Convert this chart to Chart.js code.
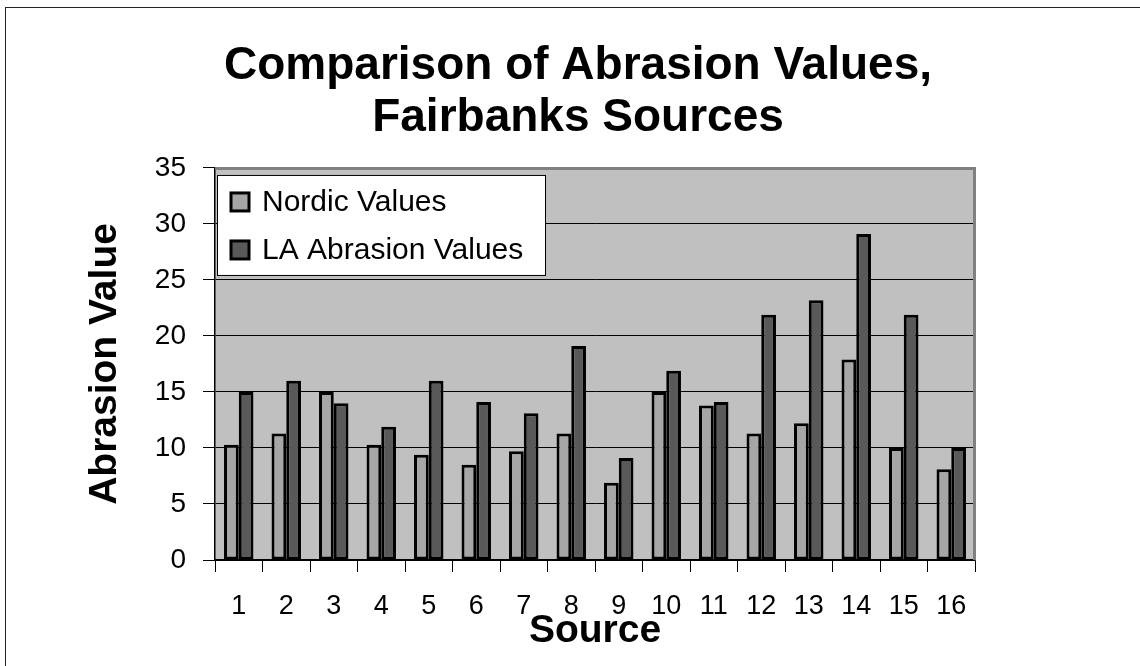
<!DOCTYPE html>
<html>
<head>
<meta charset="utf-8">
<script src="https://cdn.jsdelivr.net/npm/chart.js@4.4.0/dist/chart.umd.min.js"></script>
<style>
  body { margin: 0; background: #fff; }
</style>
</head>
<body>
<canvas id="grafico" width="1140" height="666"></canvas>
<script>
const fonte = "'Liberation Sans', Arial, sans-serif"

const sources = ["1", "2", "3", "4", "5", "6", "7", "8", "9", "10", "11", "12", "13", "14", "15", "16"]
const nordicValues = [10.3, 11.3, 15.0, 10.3, 9.4, 8.5, 9.7, 11.3, 6.9, 15.0, 13.8, 11.3, 12.2, 17.9, 10.0, 8.1]
const laValues = [15.0, 16.0, 14.0, 11.9, 16.0, 14.1, 13.1, 19.1, 9.1, 16.9, 14.1, 21.9, 23.2, 29.1, 21.9, 10.0]
const yMin = 0, yMax = 35, yStep = 5

// gray plot area, gray top/right edge, outer frame and the boxed legend
const plotArea = {
    id: 'plotArea',
    beforeDraw(chart) {
        const { ctx, chartArea: a } = chart
        ctx.save()
        ctx.fillStyle = '#c0c0c0'
        ctx.fillRect(a.left, a.top, a.right - a.left, a.bottom - a.top)
        ctx.restore()
    },
    afterDraw(chart) {
        const { ctx, chartArea: a } = chart
        ctx.save()
        ctx.strokeStyle = '#808080'
        ctx.lineWidth = 3
        ctx.beginPath()
        ctx.moveTo(a.left, a.top + 0.5)
        ctx.lineTo(a.right - 0.5, a.top + 0.5)
        ctx.lineTo(a.right - 0.5, a.bottom)
        ctx.stroke()

        ctx.strokeStyle = '#222'
        ctx.lineWidth = 1
        ctx.strokeRect(5.5, 7.5, 1200, 700)

        // legend
        const lx = a.left + 2, ly = a.top + 7, lw = 328, lh = 100
        ctx.fillStyle = '#fff'
        ctx.fillRect(lx, ly, lw, lh)
        ctx.strokeStyle = '#000'
        ctx.strokeRect(lx + 0.5, ly + 0.5, lw, lh)
        ctx.font = '30px ' + fonte
        ctx.textBaseline = 'middle'
        chart.data.datasets.forEach((ds, i) => {
            const cy = ly + 27 + i * 48
            ctx.fillStyle = ds.backgroundColor
            ctx.fillRect(lx + 14, cy - 9, 18, 18)
            ctx.lineWidth = 3
            ctx.strokeStyle = '#000'
            ctx.strokeRect(lx + 14, cy - 9, 18, 18)
            ctx.fillStyle = '#000'
            ctx.fillText(ds.label, lx + 45, cy + 1)
        })
        ctx.restore()
    }
}

new Chart(document.getElementById('grafico'), {
    type: 'bar',
    data: {
        labels: sources,
        datasets: [{
            label: 'Nordic Values',
            data: nordicValues,
            backgroundColor: '#a6a6a6',
            borderColor: '#000',
            borderWidth: 3,
            borderSkipped: false
        }, {
            label: 'LA Abrasion Values',
            data: laValues,
            backgroundColor: '#595959',
            borderColor: '#000',
            borderWidth: 3,
            borderSkipped: false
        }]
    },
    options: {
        responsive: false,
        animation: false,
        categoryPercentage: 0.62,
        barPercentage: 1.0,
        layout: { padding: { left: 16, right: 0, top: 0, bottom: 0 } },
        plugins: {
            legend: { display: false },
            tooltip: { enabled: false },
            title: {
                display: true,
                text: ['Comparison of Abrasion Values,', 'Fairbanks Sources'],
                color: '#000',
                font: { family: fonte, size: 46, weight: 'bold', lineHeight: 1.13 },
                padding: { top: 40, bottom: 24 }
            }
        },
        scales: {
            x: {
                afterFit(scale) { scale.height = 106 },
                grid: {
                    display: true,
                    drawOnChartArea: false,
                    color: '#000',
                    tickLength: 12,
                    offset: true
                },
                border: { display: true, color: '#000', width: 1.5 },
                ticks: { color: '#000', padding: 18, font: { family: fonte, size: 27 } },
                title: {
                    display: true,
                    text: 'Source',
                    color: '#000',
                    font: { family: fonte, size: 39, weight: 'bold' },
                    padding: { top: 0, bottom: 11 }
                }
            },
            y: {
                min: yMin,
                max: yMax,
                afterFit(scale) { scale.width = 199 },
                grid: {
                    color: ctx => ctx.tick && ctx.tick.value === yMax ? 'rgba(0,0,0,0)' : '#000',
                    tickColor: '#000',
                    tickLength: 12,
                    lineWidth: 1
                },
                border: { display: true, color: '#000', width: 1.5 },
                ticks: {
                    stepSize: yStep,
                    color: '#000',
                    padding: 17,
                    font: { family: fonte, size: 28 }
                },
                title: {
                    display: true,
                    text: 'Abrasion Value',
                    color: '#000',
                    font: { family: fonte, size: 39, weight: 'bold' },
                    padding: { top: 66, bottom: 0 }
                }
            },
            // empty right-hand space so the title centres like the original
            yRight: {
                position: 'right',
                afterFit(scale) { scale.width = 165 },
                grid: { display: false },
                border: { display: false },
                ticks: { display: false }
            }
        }
    },
    plugins: [plotArea]
})
</script>
</body>
</html>
